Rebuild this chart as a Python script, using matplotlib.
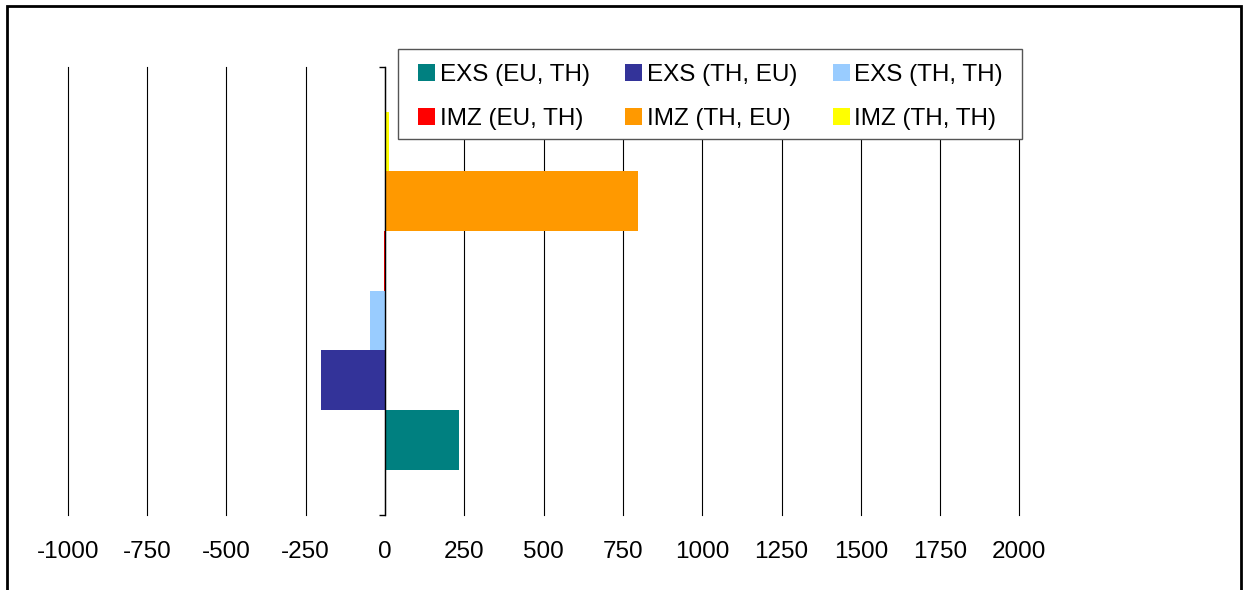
import matplotlib
matplotlib.use("Agg")
import matplotlib.pyplot as plt
from matplotlib.patches import Rectangle, Patch

plt.rcParams['font.family'] = ['Liberation Sans', 'DejaVu Sans']

series = ["EXS (EU, TH)", "EXS (TH, EU)", "EXS (TH, TH)",
          "IMZ (EU, TH)", "IMZ (TH, EU)", "IMZ (TH, TH)"]
values = [233, -202, -46, -4, 797, 13]
colors = ["#008080", "#333399", "#99CCFF", "#FF0000", "#FF9900", "#FFFF00"]
xticks = [-1000, -750, -500, -250, 0, 250, 500, 750, 1000, 1250, 1500, 1750, 2000]

W, H = 1245, 590
FS = 17.5
fig = plt.figure(figsize=(W / 100, H / 100), dpi=100)
ax = fig.add_axes([67.8 / W, 1 - 514.5 / H, (1019.4 - 67.8) / W, (514.5 - 67.0) / H])

for i, (v, c) in enumerate(zip(values, colors)):
    ax.barh(i, v, height=1.0, color=c, zorder=1, linewidth=0)

ax.set_xlim(-1000, 2000)
ax.set_ylim(-1.25, 6.25)
ax.set_xticks(xticks)
ax.set_xticklabels([str(t) for t in xticks], fontsize=FS)
ax.tick_params(axis='x', length=0, pad=19)
ax.set_axisbelow(True)
ax.grid(axis='x', color='black', linewidth=0.8)
for gl in ax.get_xgridlines():
    gl.set_clip_on(False)

for s in ['top', 'right', 'bottom']:
    ax.spines[s].set_visible(False)
ax.spines['left'].set_position(('data', 0))
ax.spines['left'].set_color('black')
ax.spines['left'].set_linewidth(1.0)
ax.spines['left'].set_zorder(3)
ax.set_yticks([-1.25, 6.25])
ax.set_yticklabels([])
ax.tick_params(axis='y', direction='out', length=4.5, width=1.0, color='black')

handles = [Patch(facecolor=c, edgecolor='none') for c in colors]
order = [0, 3, 1, 4, 2, 5]
leg = fig.legend([handles[k] for k in order], [series[k] for k in order],
                 ncol=3, loc='upper left',
                 bbox_to_anchor=(418 / W, 1 - 63.5 / H),
                 borderaxespad=0, borderpad=0, fontsize=FS, frameon=False,
                 handlelength=0.7, handleheight=0.7, handletextpad=0.2,
                 columnspacing=1.45, labelspacing=0.92)
leg.set_zorder(6)

# legend frame (white, above the axes)
fig.patches.append(Rectangle((397.7 / W, 1 - 139 / H), (1022.3 - 397.7) / W, 90 / H,
                             transform=fig.transFigure, facecolor='white',
                             edgecolor='#555555', linewidth=1.0, zorder=5))

# outer border
fig.patches.append(Rectangle((6.5 / W, -0.05), (1240.5 - 6.5) / W, 1.05 - 5.5 / H,
                             transform=fig.transFigure, fill=False,
                             edgecolor='black', linewidth=2.0, clip_on=False, zorder=7))

fig.savefig("out.png", dpi=100)
